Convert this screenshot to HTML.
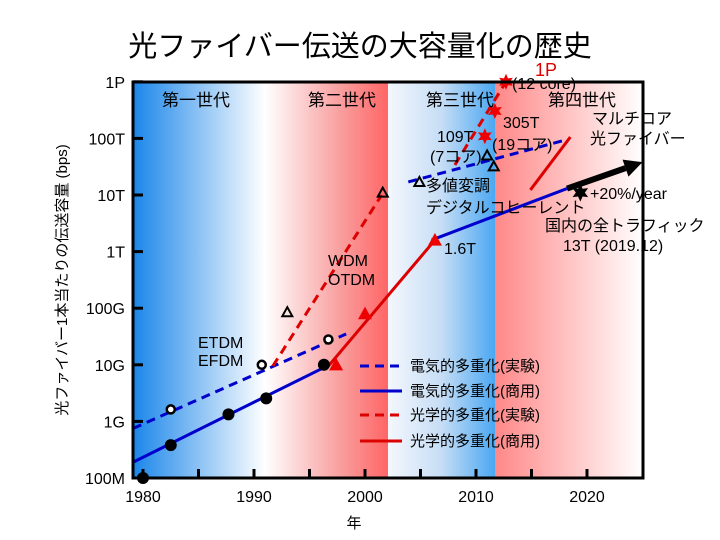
<!DOCTYPE html>
<html><head><meta charset="utf-8"><style>
body{margin:0;background:#fff}
svg{display:block;font-family:"Liberation Sans","Noto Sans CJK JP",sans-serif}
</style></head><body>
<svg id="c" width="720" height="540" viewBox="0 0 720 540">
<defs>
<linearGradient id="g1" x1="0" x2="1"><stop offset="0" stop-color="#1a86ea"/><stop offset="1" stop-color="#fff"/></linearGradient>
<linearGradient id="g2" x1="0" x2="1"><stop offset="0" stop-color="#fff"/><stop offset="0.6" stop-color="#f9a0a0"/><stop offset="1" stop-color="#f66"/></linearGradient>
<linearGradient id="g3" x1="0" x2="1"><stop offset="0" stop-color="#f4f7fd"/><stop offset="0.5" stop-color="#c6ddf5"/><stop offset="1" stop-color="#4aa8f2"/></linearGradient>
<linearGradient id="g4" x1="0" x2="1"><stop offset="0" stop-color="#f88"/><stop offset="1" stop-color="#fff"/></linearGradient>
</defs>
<rect x="133" y="82" width="132" height="396" fill="url(#g1)"/>
<rect x="265" y="82" width="123" height="396" fill="url(#g2)"/>
<rect x="388" y="82" width="107" height="396" fill="url(#g3)"/>
<rect x="495" y="82" width="148" height="396" fill="url(#g4)"/>
<g id="marks"></g>
<rect x="133" y="82" width="510" height="396" fill="none" stroke="#000" stroke-width="3"/>
<text x="360" y="56" font-size="29" text-anchor="middle">光ファイバー伝送の大容量化の歴史</text>
<text transform="translate(67,280) rotate(-90)" font-size="15" text-anchor="middle">光ファイバー1本当たりの伝送容量 (bps)</text>
<text x="354" y="528" font-size="15" text-anchor="middle">年</text>
<g font-size="17">
<text x="196" y="106" text-anchor="middle">第一世代</text>
<text x="342" y="106" text-anchor="middle">第二世代</text>
<text x="460" y="106" text-anchor="middle">第三世代</text>
<text x="582" y="106" text-anchor="middle">第四世代</text>
</g>
<g font-size="16">
<text x="198" y="348">ETDM</text><text x="198" y="366">EFDM</text>
<text x="328" y="266">WDM</text><text x="328" y="285">OTDM</text>
<text x="444" y="254">1.6T</text>
<text x="437" y="142">109T</text><text x="430" y="162">(7コア)</text>
<text x="503" y="128">305T</text><text x="492" y="150">(19コア)</text>
<text x="535" y="76" fill="#d00" font-size="18">1P</text>
<text x="512" y="89">(12 core)</text>
<text x="592" y="124">マルチコア</text><text x="590" y="144">光ファイバー</text>
<text x="426" y="191">多値変調</text><text x="426" y="213">デジタルコヒーレント</text>
<text x="590" y="199">+20%/year</text>
<text x="545" y="231">国内の全トラフィック</text><text x="563" y="251">13T (2019.12)</text>
</g>
<g font-size="15">
<line x1="360" y1="366" x2="402" y2="366" stroke="#00c" stroke-width="3" stroke-dasharray="9,6"/><text x="410" y="371">電気的多重化(実験)</text>
<line x1="360" y1="391" x2="402" y2="391" stroke="#00c" stroke-width="3"/><text x="410" y="396">電気的多重化(商用)</text>
<line x1="360" y1="415" x2="402" y2="415" stroke="#d00" stroke-width="3" stroke-dasharray="9,6"/><text x="410" y="420">光学的多重化(実験)</text>
<line x1="360" y1="441" x2="402" y2="441" stroke="#d00" stroke-width="3"/><text x="410" y="446">光学的多重化(商用)</text>
</g>
<g id="axes"></g>
</svg>
<script>
const yTickVals=[1e8,1e9,1e10,1e11,1e12,1e13,1e14,1e15];
const yTickLabels=["100M","1G","10G","100G","1T","10T","100T","1P"];
const xTickVals=[1980,1990,2000,2010,2020];
const elecComYears=[1980,1982.5,1987.7,1991.1,1996.3];
const elecComVals=[1e8,3.8e8,1.33e9,2.55e9,1.0e10];
const elecExpYears=[1982.5,1990.7,1996.7];
const elecExpVals=[1.63e9,1.0e10,2.8e10];
const openTriYears=[1993.0,2001.6,2004.9,2011.0,2011.6];
const openTriVals=[8.5e10,1.1e13,1.7e13,5.0e13,3.2e13];
const redTriYears=[1997.4,2000.0,2006.3];
const redTriVals=[1.0e10,8.0e10,1.6e12];
const starYears=[2010.8,2011.7,2012.7];
const starVals=[1.09e14,3.05e14,1.0e15];
const trafficYear=[2019.4];
const trafficVal=[1.1e13];
// line segments: [x1,v1,x2,v2]
const elecComLines=[[1979.1,1.9e8,1996.8,1.0e10],[2006.0,1.6e12,2018.2,1.3e13]];
const elecExpLines=[[1979.1,7.5e8,1998.3,3.5e10],[2003.9,1.7e13,2018.0,9.3e13]];
const optExpLines=[[1991.7,9.5e9,2001.5,1.0e13],[2008.1,3.4e13,2012.7,1.0e15]];
const optComLines=[[1996.7,9.5e9,2006.3,1.6e12],[2014.9,1.23e13,2018.5,1.06e14]];
const arrowLine=[2018.2,1.3e13,2025.0,3.8e13];

const X=y=>143+(y-1980)*11.1;
const Y=v=>478-(Math.log10(v)-8)*56.6;
const NS="http://www.w3.org/2000/svg";
const marks=document.getElementById('marks'),axes=document.getElementById('axes');
function mk(tag,attrs,parent){const e=document.createElementNS(NS,tag);for(const k in attrs)e.setAttribute(k,attrs[k]);parent.appendChild(e);return e;}
function lines(arr,color,dash,name){arr.forEach(s=>{const e=mk('line',{x1:X(s[0]),y1:Y(s[1]),x2:X(s[2]),y2:Y(s[3]),stroke:color,'stroke-width':3},marks);if(dash)e.setAttribute('stroke-dasharray','9,6');

});}
lines(elecComLines,'#00c',false,'elec-commercial-line');
lines(elecExpLines,'#00c',true,'elec-experimental-line');
lines(optExpLines,'#d00',true,'optical-experimental-line');
lines(optComLines,'#d00',false,'optical-commercial-line');
{const x1=X(arrowLine[0]),y1=Y(arrowLine[1]),x2=Math.min(X(arrowLine[2]),643),y2=Y(arrowLine[3]);
const a=Math.atan2(y2-y1,x2-x1),L=18;
const l=mk('line',{x1:x1,y1:y1,x2:x2-Math.cos(a)*L,y2:y2-Math.sin(a)*L,stroke:'#000','stroke-width':6},marks);


const p=mk('polygon',{points:`${x2},${y2} ${x2-L*Math.cos(a)+9*Math.sin(a)},${y2-L*Math.sin(a)-9*Math.cos(a)} ${x2-L*Math.cos(a)-9*Math.sin(a)},${y2-L*Math.sin(a)+9*Math.cos(a)}`,fill:'#000'},marks);

}
elecComYears.forEach((yr,i)=>{const c=mk('circle',{cx:X(yr),cy:Y(elecComVals[i]),r:6,fill:'#000'},marks);

});
elecExpYears.forEach((yr,i)=>{const c=mk('circle',{cx:X(yr),cy:Y(elecExpVals[i]),r:4,fill:'#fff',stroke:'#000','stroke-width':2.5},marks);

});
function tri(x,y,s){return `${x},${y-s} ${x-s},${y+s*0.8} ${x+s},${y+s*0.8}`;}
openTriYears.forEach((yr,i)=>{const t=mk('polygon',{points:tri(X(yr),Y(openTriVals[i]),5),fill:'none',stroke:'#000','stroke-width':2},marks);

});
redTriYears.forEach((yr,i)=>{const t=mk('polygon',{points:tri(X(yr),Y(redTriVals[i]),7),fill:'#e00'},marks);

});
function star(x,y,r,fill,name){let p=[];for(let k=0;k<12;k++){const rr=k%2?r*0.5:r,a=Math.PI*k/6-Math.PI/2;p.push((x+rr*Math.cos(a))+','+(y+rr*Math.sin(a)));}
const s=mk('polygon',{points:p.join(' '),fill:fill},marks);

}
starYears.forEach((yr,i)=>star(X(yr),Y(starVals[i]),8,'#e00','record-star'));
trafficYear.forEach((yr,i)=>star(X(yr),Y(trafficVal[i]),9,'#000','traffic-star'));
yTickVals.forEach((v,i)=>{const y=Y(v);
const t=mk('line',{x1:133,y1:y,x2:143,y2:y,stroke:'#000','stroke-width':3},axes);


const tx=mk('text',{x:125,y:y+6,'font-size':16,'text-anchor':'end'},axes);tx.textContent=yTickLabels[i];

});
for(let yr=1980;yr<=2024;yr+=5){const t=mk('line',{x1:X(yr),y1:478,x2:X(yr),y2:469,stroke:'#000','stroke-width':3},axes);

}
xTickVals.forEach(yr=>{const tx=mk('text',{x:X(yr),y:502,'font-size':16,'text-anchor':'middle'},axes);tx.textContent=yr;

});
</script>
</body></html>
